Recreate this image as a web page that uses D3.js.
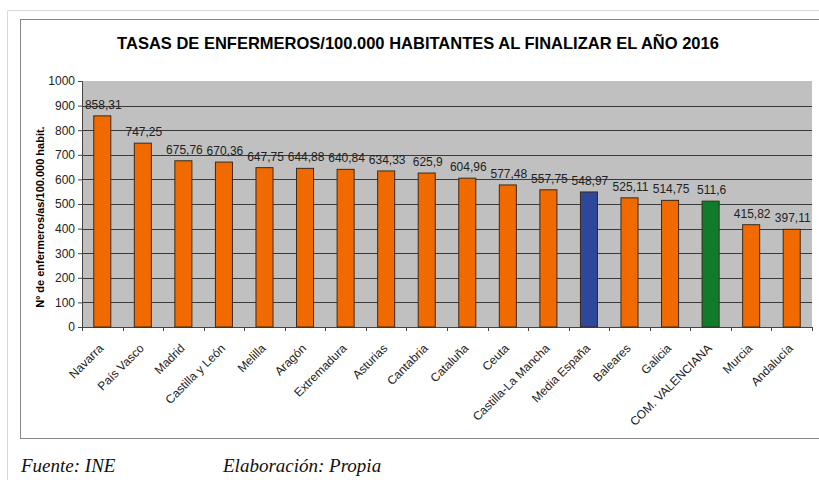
<!DOCTYPE html>
<html>
<head>
<meta charset="utf-8">
<style>
  body { margin: 0; background: #fff; }
  svg { display: block; }
</style>
</head>
<body>
<svg width="819" height="480"></svg>
<script src="https://d3js.org/d3.v7.min.js"></script>
<script>
var regions = ["Navarra", "País Vasco", "Madrid", "Castilla y León", "Melilla", "Aragón",
  "Extremadura", "Asturias", "Cantabria", "Cataluña", "Ceuta", "Castilla-La Mancha",
  "Media España", "Baleares", "Galicia", "COM. VALENCIANA", "Murcia", "Andalucía"];
var rates = [858.31, 747.25, 675.76, 670.36, 647.75, 644.88, 640.84, 634.33, 625.9,
  604.96, 577.48, 557.75, 548.97, 525.11, 514.75, 511.6, 415.82, 397.11];
var yTicks = [0, 100, 200, 300, 400, 500, 600, 700, 800, 900, 1000];

var svg = d3.select("svg");
var font = "Liberation Sans, Arial, sans-serif";

// outer page frame
svg.append("path")
    .attr("d", "M7.5,480 V10.5 H819")
    .attr("fill", "none")
    .attr("stroke", "#d8d8d8");

// chart box
svg.append("rect")
    .attr("x", 20.5).attr("y", 19.5)
    .attr("width", 810).attr("height", 419)
    .attr("fill", "#fff")
    .attr("stroke", "#888");

svg.append("text")
    .attr("x", 418).attr("y", 49)
    .attr("text-anchor", "middle")
    .style("font-family", font)
    .style("font-weight", "bold")
    .style("font-size", "16.5px")
    .text("TASAS DE ENFERMEROS/100.000 HABITANTES AL FINALIZAR EL AÑO 2016");

var plotL = 82, plotR = 812, plotT = 81, plotB = 327;

var x = d3.scaleBand().domain(regions).range([plotL, plotR]).paddingInner(0.58).paddingOuter(0.29);
var xb = d3.scaleBand().domain(regions).range([plotL, plotR]);
var y = d3.scaleLinear().domain([0, 1000]).range([plotB, plotT]);

var g = svg.append("g");

g.append("rect")
    .attr("x", plotL).attr("y", plotT)
    .attr("width", plotR - plotL).attr("height", plotB - plotT)
    .attr("fill", "#c0c0c0");

g.selectAll(".grid")
    .data(yTicks.filter(function(d) { return d > 0 && d < 1000; }))
    .enter().append("line")
    .attr("x1", plotL).attr("x2", plotR)
    .attr("y1", function(d) { return Math.round(y(d)) + 0.5; })
    .attr("y2", function(d) { return Math.round(y(d)) + 0.5; })
    .attr("stroke", "#3a3a3a");

// y axis
var yAxis = g.append("g")
    .attr("transform", "translate(" + plotL + ",0)")
    .call(d3.axisLeft(y).tickValues(yTicks).tickFormat(d3.format("d")).tickSize(4).tickPadding(3));
yAxis.select(".domain").attr("stroke", "#444");
yAxis.selectAll("line").attr("stroke", "#444");
yAxis.selectAll("text")
    .style("font-family", font)
    .style("font-size", "12px")
    .attr("fill", "#222");

// x axis, ticks at category boundaries
var xAxis = g.append("g").attr("transform", "translate(0," + plotB + ")");
xAxis.append("line").attr("x1", plotL).attr("x2", plotR).attr("y1", 0.5).attr("y2", 0.5).attr("stroke", "#444");
xAxis.selectAll(".xt")
    .data(regions.concat(["end"]))
    .enter().append("line")
    .attr("x1", function(d, i) { return Math.round(plotL + i * xb.step()) + 0.5; })
    .attr("x2", function(d, i) { return Math.round(plotL + i * xb.step()) + 0.5; })
    .attr("y1", 0).attr("y2", 4)
    .attr("stroke", "#444");

xAxis.selectAll(".xl")
    .data(regions)
    .enter().append("text")
    .attr("transform", function(d) {
      return "translate(" + (xb(d) + xb.bandwidth() / 2 - 1) + ",19) rotate(-45)";
    })
    .attr("text-anchor", "end")
    .attr("dy", "0.35em")
    .style("font-family", font)
    .style("font-size", "12px")
    .attr("fill", "#222")
    .text(function(d) { return d; });

// bars
var colorOf = function(d) {
  if (d === "Media España") return "#2c479c";
  if (d === "COM. VALENCIANA") return "#0e7c2a";
  return "#f06a00";
};

g.selectAll(".bar")
    .data(regions)
    .enter().append("rect")
    .attr("x", function(d) { return x(d); })
    .attr("width", x.bandwidth())
    .attr("y", function(d, i) { return y(rates[i]); })
    .attr("height", function(d, i) { return plotB - y(rates[i]); })
    .attr("fill", colorOf)
    .attr("stroke", "#3a2a1a")
    .attr("stroke-width", 1);

g.selectAll(".val")
    .data(regions)
    .enter().append("text")
    .attr("x", function(d) { return xb(d) + xb.bandwidth() / 2 + 1; })
    .attr("y", function(d, i) { return y(rates[i]) - 7; })
    .attr("text-anchor", "middle")
    .style("font-family", font)
    .style("font-size", "12px")
    .attr("fill", "#222")
    .text(function(d, i) { return String(rates[i]).replace(".", ","); });

// y title
svg.append("text")
    .attr("transform", "translate(44,217) rotate(-90)")
    .attr("text-anchor", "middle")
    .style("font-family", font)
    .style("font-weight", "bold")
    .style("font-size", "11px")
    .text("Nº de enfermeros/as/100.000 habit.");

// footer
var foot = svg.append("g")
    .style("font-family", "Liberation Serif, Times New Roman, serif")
    .style("font-style", "italic")
    .style("font-size", "19px")
    .attr("fill", "#111");
foot.append("text").attr("x", 21).attr("y", 472).text("Fuente: INE");
foot.append("text").attr("x", 223).attr("y", 472).text("Elaboración: Propia");
</script>
</body>
</html>
